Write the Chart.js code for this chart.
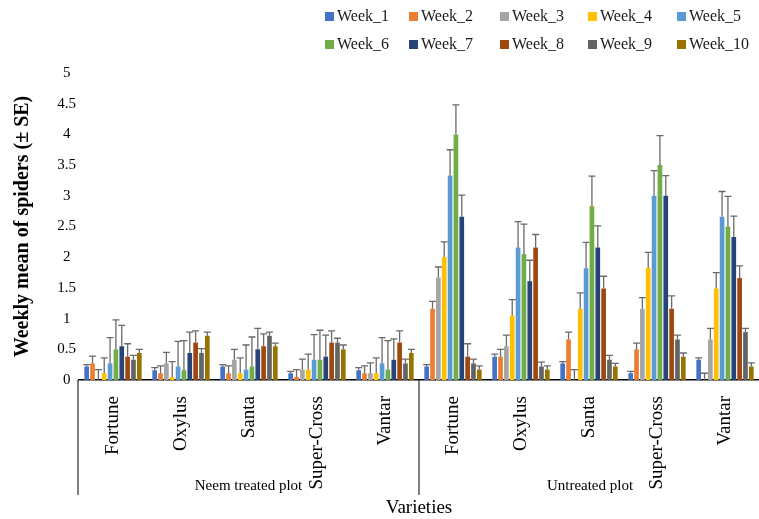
<!DOCTYPE html>
<html>
<head>
<meta charset="utf-8">
<script src="https://cdn.jsdelivr.net/npm/chart.js@4.4.1/dist/chart.umd.min.js"></script>
<style>
  body { margin: 0; background: #fff; }
  #wrap { width: 759px; height: 519px; }
</style>
</head>
<body>
<div id="wrap"><canvas id="myChart" width="759" height="519"></canvas></div>
<script>
// categories (Neem treated plot: 0-4, Untreated plot: 5-9)
let varieties = ['Fortune', 'Oxylus', 'Santa', 'Super-Cross', 'Vantar',
                 'Fortune', 'Oxylus', 'Santa', 'Super-Cross', 'Vantar'];
let groups = ['Neem treated plot', 'Untreated plot'];
let weekNames = ['Week_1', 'Week_2', 'Week_3', 'Week_4', 'Week_5',
                 'Week_6', 'Week_7', 'Week_8', 'Week_9', 'Week_10'];
let weekColors = ['#4472C4', '#ED7D31', '#A5A5A5', '#FFC000', '#5B9BD5',
                  '#70AD47', '#264478', '#9E480E', '#636363', '#997300'];
let yTicks = [0, 0.5, 1, 1.5, 2, 2.5, 3, 3.5, 4, 4.5, 5];

// weekly means
let week1  = [0.22, 0.16, 0.22, 0.11, 0.16, 0.22, 0.38, 0.27, 0.11, 0.33];
let week2  = [0.27, 0.11, 0.11, 0.05, 0.11, 1.16, 0.38, 0.66, 0.50, 0.00];
let week3  = [0.00, 0.27, 0.33, 0.17, 0.11, 1.67, 0.55, 0.00, 1.16, 0.66];
let week4  = [0.11, 0.05, 0.11, 0.17, 0.11, 2.00, 1.05, 1.16, 1.83, 1.49];
let week5  = [0.27, 0.22, 0.17, 0.33, 0.27, 3.33, 2.16, 1.82, 3.00, 2.66];
let week6  = [0.50, 0.16, 0.22, 0.33, 0.17, 4.00, 2.05, 2.83, 3.50, 2.50];
let week7  = [0.55, 0.44, 0.50, 0.38, 0.33, 2.66, 1.61, 2.16, 3.00, 2.33];
let week8  = [0.38, 0.61, 0.55, 0.61, 0.61, 0.38, 2.16, 1.49, 1.16, 1.66];
let week9  = [0.33, 0.44, 0.72, 0.61, 0.27, 0.27, 0.22, 0.33, 0.66, 0.78];
let week10 = [0.44, 0.72, 0.55, 0.50, 0.44, 0.17, 0.17, 0.22, 0.38, 0.22];

// standard errors
let se1  = [0.03, 0.04, 0.03, 0.03, 0.04, 0.03, 0.04, 0.03, 0.03, 0.03];
let se2  = [0.12, 0.12, 0.12, 0.12, 0.12, 0.12, 0.12, 0.12, 0.10, 0.11];
let se3  = [0.17, 0.18, 0.17, 0.17, 0.17, 0.17, 0.18, 0.17, 0.18, 0.18];
let se4  = [0.25, 0.25, 0.25, 0.25, 0.25, 0.25, 0.26, 0.26, 0.25, 0.26];
let se5  = [0.42, 0.41, 0.40, 0.41, 0.42, 0.42, 0.42, 0.42, 0.41, 0.41];
let se6  = [0.48, 0.48, 0.48, 0.48, 0.47, 0.48, 0.49, 0.49, 0.48, 0.49];
let se7  = [0.34, 0.34, 0.34, 0.35, 0.34, 0.35, 0.34, 0.35, 0.33, 0.34];
let se8  = [0.21, 0.19, 0.20, 0.19, 0.19, 0.21, 0.21, 0.20, 0.21, 0.20];
let se9  = [0.07, 0.07, 0.06, 0.07, 0.07, 0.07, 0.07, 0.07, 0.07, 0.06];
let se10 = [0.06, 0.06, 0.05, 0.07, 0.06, 0.06, 0.06, 0.05, 0.06, 0.06];

let weekMeans = [week1, week2, week3, week4, week5, week6, week7, week8, week9, week10];
let weekSE = [se1, se2, se3, se4, se5, se6, se7, se8, se9, se10];

const serif = "'Liberation Serif', 'Times New Roman', serif";

let datasets = [];
weekNames.forEach(function(name, i) {
    datasets.push({
        label: name,
        data: weekMeans[i],
        se: weekSE[i],
        backgroundColor: weekColors[i],
        borderWidth: 0,
        categoryPercentage: 0.86,
        barPercentage: 0.8
    });
});

// plus error bars
const errorBars = {
    id: 'errorBars',
    afterDatasetsDraw(chart) {
        const ctx = chart.ctx;
        const y = chart.scales.y;
        chart.data.datasets.forEach(function(ds, i) {
            const meta = chart.getDatasetMeta(i);
            meta.data.forEach(function(bar, j) {
                const top = y.getPixelForValue(ds.data[j] + ds.se[j]);
                ctx.save();
                ctx.strokeStyle = '#6a6a6a';
                ctx.lineWidth = 1.3;
                ctx.beginPath();
                ctx.moveTo(bar.x, bar.y);
                ctx.lineTo(bar.x, top);
                ctx.moveTo(bar.x - 3.5, top);
                ctx.lineTo(bar.x + 3.5, top);
                ctx.stroke();
                ctx.restore();
            });
        });
    }
};

// second level of the category axis
const groupAxis = {
    id: 'groupAxis',
    afterDraw(chart) {
        const ctx = chart.ctx;
        const x = chart.scales.x;
        const y0 = chart.chartArea.bottom;
        const mid = (x.getPixelForValue(4) + x.getPixelForValue(5)) / 2;
        const bounds = [x.left - 1, mid, x.right + 2];
        ctx.save();
        ctx.strokeStyle = '#000';
        ctx.lineWidth = 1;
        bounds.forEach(function(b) {
            ctx.beginPath();
            ctx.moveTo(b, y0);
            ctx.lineTo(b, y0 + 115);
            ctx.stroke();
        });
        ctx.fillStyle = '#000';
        ctx.font = '15px ' + serif;
        ctx.textAlign = 'center';
        ctx.textBaseline = 'middle';
        groups.forEach(function(g, i) {
            ctx.fillText(g, (bounds[i] + bounds[i + 1]) / 2, y0 + 106);
        });
        ctx.restore();
    }
};

// legend in a 5 x 2 grid
const gridLegend = {
    id: 'gridLegend',
    afterDraw(chart) {
        const ctx = chart.ctx;
        const colX = [325, 409, 500, 588, 677];
        const rowY = [16, 44];
        ctx.save();
        ctx.font = '16px ' + serif;
        ctx.textBaseline = 'middle';
        ctx.textAlign = 'left';
        chart.data.datasets.forEach(function(ds, i) {
            const cx = colX[i % 5];
            const cy = rowY[Math.floor(i / 5)];
            ctx.fillStyle = ds.backgroundColor;
            ctx.fillRect(cx, cy - 4, 9, 9);
            ctx.fillStyle = '#1a1a1a';
            ctx.fillText(ds.label, cx + 12, cy + 1);
        });
        ctx.restore();
    }
};

let config = {
    type: 'bar',
    data: {
        labels: varieties,
        datasets: datasets
    },
    options: {
        responsive: false,
        animation: false,
        devicePixelRatio: 1,
        layout: { padding: { top: 73, right: 0, left: 0, bottom: 0 } },
        plugins: {
            legend: { display: false },
            tooltip: { enabled: false }
        },
        scales: {
            x: {
                grid: { display: false },
                border: { display: true, color: '#000', width: 1.5 },
                ticks: {
                    color: '#000',
                    font: { family: serif, size: 19 },
                    minRotation: 90,
                    maxRotation: 90,
                    padding: 8,
                    autoSkip: false
                },
                title: {
                    display: true,
                    text: 'Varieties',
                    color: '#000',
                    font: { family: serif, size: 19 },
                    padding: 0
                },
                afterFit: function(scale) { scale.height = 139; }
            },
            y: {
                min: 0,
                max: 5,
                grid: { display: false, drawTicks: false },
                border: { display: false },
                afterBuildTicks: function(scale) {
                    scale.ticks = yTicks.map(function(v) { return { value: v }; });
                },
                ticks: {
                    color: '#000',
                    font: { family: serif, size: 15 },
                    padding: 3,
                    crossAlign: 'center',
                    callback: function(value) { return String(value); }
                },
                title: {
                    display: true,
                    text: 'Weekly mean of spiders (± SE)',
                    color: '#000',
                    font: { family: serif, size: 20, weight: 'bold' },
                    padding: { top: 11, bottom: 0 }
                },
                afterFit: function(scale) { scale.width = 79; }
            }
        }
    },
    plugins: [errorBars, groupAxis, gridLegend]
};

let myChart = new Chart(document.getElementById('myChart'), config);
</script>
</body>
</html>
